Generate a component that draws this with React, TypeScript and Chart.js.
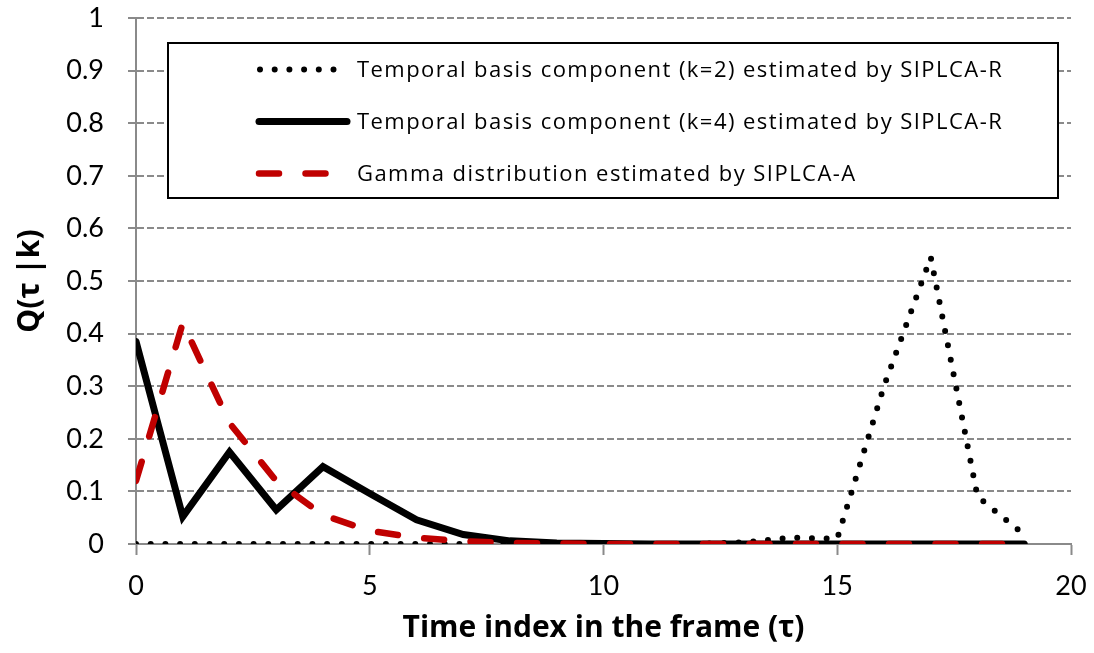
import React, { useEffect, useRef } from "react";
import { Chart, registerables } from "chart.js";

Chart.register(...registerables);

// ---- data ----
const tau = [0, 1, 2, 3, 4, 5, 6, 7, 8, 9, 10, 11, 12, 13, 14, 15, 16, 17, 18, 19];
const k2Values = [0, 0, 0, 0, 0, 0, 0, 0, 0, 0, 0, 0, 0, 0.003, 0.012, 0.01, 0.3, 0.545, 0.09, 0.018];
const k4Values = [0.385, 0.052, 0.175, 0.065, 0.147, 0.096, 0.046, 0.018, 0.006, 0.002, 0.001, 0, 0, 0, 0, 0, 0, 0, 0, 0];
const gammaValues = [0.12, 0.42, 0.23, 0.12, 0.055, 0.025, 0.012, 0.005, 0.002, 0.001, 0, 0, 0, 0, 0, 0, 0, 0, 0, 0];
const seriesLabels = [
  "Temporal basis component (k=2) estimated by SIPLCA-R",
  "Temporal basis component (k=4) estimated by SIPLCA-R",
  "Gamma distribution estimated by SIPLCA-A",
];
const xTicks = [0, 5, 10, 15, 20];
const yTicks = [0, 0.1, 0.2, 0.3, 0.4, 0.5, 0.6, 0.7, 0.8, 0.9, 1];
const yTickLabels = ["0", "0.1", "0.2", "0.3", "0.4", "0.5", "0.6", "0.7", "0.8", "0.9", "1"];
const xTitle = "Time index in the frame (τ)";
const yTitle = "Q(τ |k)";

const TICK_FONT = "Lato, 'Open Sans', 'DejaVu Sans', sans-serif";
const TEXT_FONT = "'Open Sans', Lato, 'DejaVu Sans', sans-serif";
const GRID = "#8a8a8a";

const toPoints = (vals: number[]) => vals.map((v, i) => ({ x: tau[i], y: v }));

const legendPlugin = {
  id: "boxLegend",
  afterDatasetsDraw(chart: any) {
    const { ctx, chartArea } = chart;
    const bx = chartArea.left + 32;
    const by = chartArea.top + 25;
    const bw = 890;
    const bh = 155;
    ctx.save();
    ctx.fillStyle = "#ffffff";
    ctx.fillRect(bx, by, bw, bh);
    ctx.strokeStyle = "#000000";
    ctx.lineWidth = 2;
    ctx.strokeRect(bx, by, bw, bh);
    const rowY = [by + 26.5, by + 78.5, by + 130.5];
    const sx0 = bx + 91;
    const sx1 = bx + 179;
    const ds = chart.data.datasets;
    for (let i = 0; i < 3; i++) {
      const d = ds[i];
      ctx.save();
      ctx.strokeStyle = d.borderColor;
      ctx.lineWidth = d.borderWidth;
      ctx.lineCap = "round";
      ctx.setLineDash(d.borderDash || []);
      ctx.beginPath();
      let end = sx1;
      if (i === 0) end = bx + 168;
      if (i === 2) end = bx + 162;
      ctx.moveTo(sx0 + (i === 0 ? 1 : 0), rowY[i]);
      ctx.lineTo(end, rowY[i]);
      ctx.stroke();
      ctx.restore();
      ctx.save();
      ctx.fillStyle = "#000000";
      ctx.font = "22px " + TEXT_FONT;
      try {
        (ctx as any).letterSpacing = "1.45px";
      } catch (e) {}
      ctx.textBaseline = "middle";
      ctx.textAlign = "left";
      ctx.fillText(d.label, bx + 189, rowY[i] + 1);
      ctx.restore();
    }
    ctx.restore();
  },
};

export default function App() {
  const ref = useRef<HTMLCanvasElement | null>(null);
  useEffect(() => {
    if (!ref.current) return;
    const chart = new Chart(ref.current, {
      type: "line",
      data: {
        datasets: [
          {
            label: seriesLabels[0],
            data: toPoints(k2Values),
            borderColor: "#000000",
            borderWidth: 6,
            borderDash: [0, 14.7],
            borderCapStyle: "round",
            pointRadius: 0,
            tension: 0,
            order: 3,
          },
          {
            label: seriesLabels[1],
            data: toPoints(k4Values),
            borderColor: "#000000",
            borderWidth: 7,
            borderCapStyle: "round",
            borderJoinStyle: "miter",
            pointRadius: 0,
            tension: 0,
            order: 2,
          },
          {
            label: seriesLabels[2],
            data: toPoints(gammaValues),
            borderColor: "#C00000",
            borderWidth: 6.5,
            borderDash: [20, 26.5],
            borderCapStyle: "round",
            pointRadius: 0,
            tension: 0,
            order: 1,
          },
        ],
      },
      options: {
        responsive: false,
        animation: false,
        events: [],
        layout: { padding: { top: 18, right: 23, left: 0, bottom: 0 } },
        plugins: { legend: { display: false }, tooltip: { enabled: false } },
        scales: {
          x: {
            type: "linear",
            min: 0,
            max: 20,
            afterBuildTicks: (s: any) => {
              s.ticks = xTicks.map((v) => ({ value: v }));
            },
            afterFit: (s: any) => {
              s.height = 109;
              s.paddingLeft = 0;
              s.paddingRight = 0;
            },
            ticks: {
              color: "#000",
              font: { family: TICK_FONT, size: 27 },
              padding: 15,
              maxRotation: 0,
              callback: (v: any) => String(v),
            },
            grid: {
              drawOnChartArea: false,
              drawTicks: true,
              tickLength: 11,
              tickColor: GRID,
              tickWidth: 2,
            },
            border: { display: true, color: GRID, width: 2 },
            title: {
              display: true,
              text: xTitle,
              color: "#000",
              font: { family: TEXT_FONT, size: 30, weight: "bold" },
              padding: { top: 0, bottom: 7 },
            },
          },
          y: {
            type: "linear",
            min: 0,
            max: 1,
            afterBuildTicks: (s: any) => {
              s.ticks = yTicks.map((v) => ({ value: v }));
            },
            afterFit: (s: any) => {
              s.width = 136;
              s.paddingTop = 0;
              s.paddingBottom = 0;
            },
            ticks: {
              color: "#000",
              font: { family: TICK_FONT, size: 27 },
              padding: 24,
              callback: (_v: any, i: number) => yTickLabels[i],
            },
            grid: {
              drawOnChartArea: true,
              drawTicks: true,
              tickLength: 8,
              color: GRID,
              lineWidth: 2,
              tickColor: GRID,
              tickWidth: 2,
              tickBorderDash: [],
            },
            border: { display: true, color: GRID, width: 2, dash: [7, 3] },
            title: {
              display: true,
              text: yTitle,
              color: "#000",
              font: { family: TEXT_FONT, size: 30, weight: "bold" },
              padding: { top: 12, bottom: 0 },
            },
          },
        },
      },
      plugins: [legendPlugin],
    });
    return () => chart.destroy();
  }, []);
  return (
    <div style={{ position: "absolute", left: 0, top: 0, width: 1094, height: 653, background: "#fff" }}>
      <canvas ref={ref} width={1094} height={653} style={{ display: "block" }} />
    </div>
  );
}
